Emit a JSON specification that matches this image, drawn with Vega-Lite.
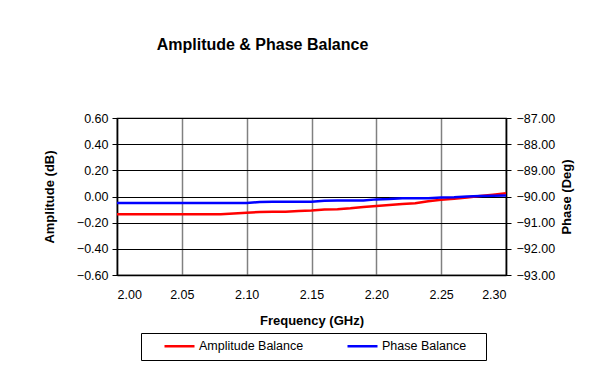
{
  "$schema": "https://vega.github.io/schema/vega-lite/v6.json",
  "width": 389,
  "height": 157,
  "autosize": {"type": "none"},
  "padding": {"left": 117, "top": 118, "right": 101, "bottom": 108},
  "background": "white",
  "title": {
    "text": "Amplitude & Phase Balance",
    "font": "Liberation Sans",
    "fontSize": 16,
    "fontWeight": "bold",
    "color": "black",
    "anchor": "middle",
    "dx": -49,
    "offset": 59
  },
  "data": {
    "values": [
      {"freq": 2.00, "amp": -0.135, "phase": -90.25},
      {"freq": 2.01, "amp": -0.135, "phase": -90.25},
      {"freq": 2.02, "amp": -0.135, "phase": -90.25},
      {"freq": 2.03, "amp": -0.135, "phase": -90.25},
      {"freq": 2.04, "amp": -0.135, "phase": -90.25},
      {"freq": 2.05, "amp": -0.135, "phase": -90.25},
      {"freq": 2.06, "amp": -0.135, "phase": -90.25},
      {"freq": 2.07, "amp": -0.135, "phase": -90.25},
      {"freq": 2.08, "amp": -0.135, "phase": -90.25},
      {"freq": 2.09, "amp": -0.13, "phase": -90.25},
      {"freq": 2.10, "amp": -0.125, "phase": -90.25},
      {"freq": 2.11, "amp": -0.118, "phase": -90.21},
      {"freq": 2.12, "amp": -0.117, "phase": -90.2},
      {"freq": 2.13, "amp": -0.116, "phase": -90.2},
      {"freq": 2.14, "amp": -0.11, "phase": -90.2},
      {"freq": 2.15, "amp": -0.107, "phase": -90.2},
      {"freq": 2.16, "amp": -0.1, "phase": -90.16},
      {"freq": 2.17, "amp": -0.097, "phase": -90.15},
      {"freq": 2.18, "amp": -0.09, "phase": -90.15},
      {"freq": 2.19, "amp": -0.08, "phase": -90.15},
      {"freq": 2.20, "amp": -0.072, "phase": -90.11},
      {"freq": 2.21, "amp": -0.065, "phase": -90.1},
      {"freq": 2.22, "amp": -0.057, "phase": -90.07},
      {"freq": 2.23, "amp": -0.052, "phase": -90.07},
      {"freq": 2.24, "amp": -0.037, "phase": -90.07},
      {"freq": 2.25, "amp": -0.024, "phase": -90.04},
      {"freq": 2.26, "amp": -0.017, "phase": -90.03},
      {"freq": 2.27, "amp": -0.007, "phase": -90.0},
      {"freq": 2.28, "amp": 0.003, "phase": -89.98},
      {"freq": 2.29, "amp": 0.013, "phase": -89.97},
      {"freq": 2.30, "amp": 0.025, "phase": -89.96}
    ]
  },
  "encoding": {
    "x": {
      "field": "freq",
      "type": "quantitative",
      "scale": {"domain": [2.0, 2.3], "nice": false, "zero": false},
      "axis": {
        "title": "Frequency (GHz)",
        "values": [2.0, 2.05, 2.1, 2.15, 2.2, 2.25, 2.3],
        "format": ".2f",
        "ticks": false,
        "labelPadding": 13,
        "titlePadding": 14,
        "gridColor": "#808080",
        "gridWidth": 1.5,
        "gridOpacity": 1,
        "domainColor": "black",
        "domainWidth": 1.5
      }
    }
  },
  "layer": [
    {
      "mark": {"type": "line", "strokeWidth": 2.5, "clip": true},
      "encoding": {
        "y": {
          "field": "amp",
          "type": "quantitative",
          "scale": {"domain": [-0.6, 0.6], "nice": false, "zero": false},
          "axis": {
            "title": "Amplitude (dB)",
            "orient": "left",
            "values": [-0.6, -0.4, -0.2, 0, 0.2, 0.4, 0.6],
            "format": ".2f",
            "tickSize": 5,
            "labelPadding": 4,
            "titlePadding": 20,
            "gridColor": "black",
            "gridWidth": 1.2,
            "gridOpacity": 1,
            "domainColor": "black",
            "domainWidth": 1.5,
            "tickColor": "black"
          }
        },
        "color": {
          "datum": "Amplitude Balance",
          "type": "nominal",
          "legend": {"title": "."}
        }
      }
    },
    {
      "mark": {"type": "line", "strokeWidth": 2.5, "clip": true},
      "encoding": {
        "y": {
          "field": "phase",
          "type": "quantitative",
          "scale": {"domain": [-93, -87], "nice": false, "zero": false},
          "axis": {
            "title": "Phase (Deg)",
            "orient": "right",
            "values": [-93, -92, -91, -90, -89, -88, -87],
            "format": ".2f",
            "tickSize": 5,
            "labelPadding": 5,
            "titlePadding": 6,
            "titleAngle": 270,
            "titleBaseline": "top",
            "grid": false,
            "domainColor": "black",
            "domainWidth": 1.5,
            "tickColor": "black"
          }
        },
        "color": {"datum": "Phase Balance", "type": "nominal"}
      }
    }
  ],
  "resolve": {"scale": {"y": "independent"}},
  "config": {
    "font": "Liberation Sans",
    "view": {"stroke": "black", "strokeWidth": 1.2},
    "axis": {
      "labelFont": "Liberation Sans",
      "labelFontSize": 12.5,
      "labelColor": "black",
      "titleFont": "Liberation Sans",
      "titleFontSize": 13,
      "titleFontWeight": "bold",
      "titleColor": "black"
    },
    "range": {"category": ["#FF0000", "#0000FF"]},
    "legend": {
      "orient": "none",
      "legendX": 24,
      "legendY": 215,
      "direction": "horizontal",
      "titleOrient": "right",
      "titleColor": "white",
      "titleFontSize": 10,
      "titlePadding": 10,
      "titleFont": "Liberation Sans",
      "strokeColor": "black",
      "fillColor": "white",
      "padding": 7,
      "symbolType": "stroke",
      "symbolSize": 900,
      "symbolStrokeWidth": 2.5,
      "symbolOffset": 15,
      "labelOffset": 3,
      "clipHeight": 12,
      "columnPadding": 27,
      "labelFont": "Liberation Sans",
      "labelFontSize": 12.5,
      "labelColor": "black"
    }
  }
}
